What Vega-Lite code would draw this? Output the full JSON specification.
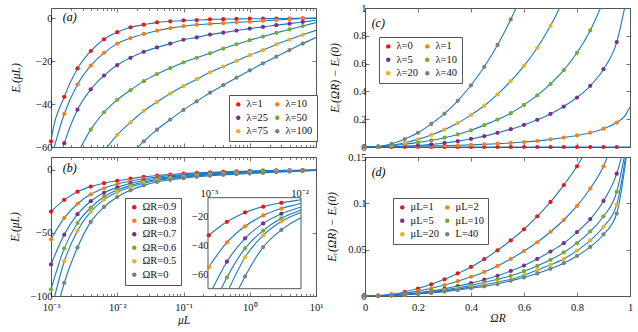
{
"$schema":"https://vega.github.io/schema/vega-lite/v6.json",
"autosize":{"type":"pad"},
"padding":{"left":8,"top":2,"right":0,"bottom":0},
"background":"white",
"columns":2,
"spacing":{"row":10,"column":49},
"bounds":"flush",
"resolve":{"scale":{"x":"independent","y":"independent","color":"independent"}},
"config":{
 "font":"Liberation Serif",
 "view":{"stroke":"#555","strokeWidth":1},
 "scale":{"nice":false},
 "axis":{"domain":false,"grid":false,"labelFont":"Liberation Serif","labelFontSize":10.5,"labelColor":"#111","titleFont":"Liberation Serif","titleFontSize":11.5,"titleFontWeight":"normal","titleFontStyle":"italic","titleColor":"#111","tickColor":"#555","tickWidth":0.8,"labelFlush":false,"labelOverlap":false,"labelPadding":3,"labelBound":false},
 "legend":{"orient":"none","direction":"horizontal","labelFont":"Liberation Serif","labelFontSize":10.5,"labelColor":"#111","symbolType":"circle","symbolSize":20,"symbolStrokeWidth":0,"symbolOpacity":1,"fillColor":"white","strokeColor":"#555","padding":4,"rowPadding":2.5,"columnPadding":3,"labelOffset":3}
},
"datasets":{
"a":[
{"s":"λ=1","x":0.00095,"y":-63,"src":"fit"},
{"s":"λ=1","x":0.001,"y":-57.4,"src":"pt"},{"s":"λ=1","x":0.001585,"y":-36.6,"src":"pt"},{"s":"λ=1","x":0.002512,"y":-23.4,"src":"pt"},{"s":"λ=1","x":0.003981,"y":-15.3,"src":"pt"},{"s":"λ=1","x":0.00631,"y":-9.8,"src":"pt"},{"s":"λ=1","x":0.01,"y":-6.5,"src":"pt"},{"s":"λ=1","x":0.01585,"y":-4.2,"src":"pt"},{"s":"λ=1","x":0.02512,"y":-3.0,"src":"pt"},{"s":"λ=1","x":0.03981,"y":-1.9,"src":"pt"},{"s":"λ=1","x":0.0631,"y":-1.4,"src":"pt"},{"s":"λ=1","x":0.1,"y":-1.0,"src":"pt"},{"s":"λ=1","x":0.1585,"y":-0.8,"src":"pt"},{"s":"λ=1","x":0.2512,"y":-0.5,"src":"pt"},{"s":"λ=1","x":0.3981,"y":-0.4,"src":"pt"},{"s":"λ=1","x":0.631,"y":-0.3,"src":"pt"},{"s":"λ=1","x":1,"y":-0.2,"src":"pt"},{"s":"λ=1","x":1.585,"y":-0.2,"src":"pt"},{"s":"λ=1","x":2.512,"y":-0.1,"src":"pt"},{"s":"λ=1","x":3.981,"y":-0.1,"src":"pt"},{"s":"λ=1","x":6.31,"y":0,"src":"pt"},{"s":"λ=1","x":10,"y":0,"src":"fit"},
{"s":"λ=10","x":0.001,"y":-65.5,"src":"fit"},
{"s":"λ=10","x":0.001585,"y":-44.6,"src":"pt"},{"s":"λ=10","x":0.002512,"y":-30.9,"src":"pt"},{"s":"λ=10","x":0.003981,"y":-22.1,"src":"pt"},{"s":"λ=10","x":0.00631,"y":-16.1,"src":"pt"},{"s":"λ=10","x":0.01,"y":-11.8,"src":"pt"},{"s":"λ=10","x":0.01585,"y":-9.2,"src":"pt"},{"s":"λ=10","x":0.02512,"y":-7.3,"src":"pt"},{"s":"λ=10","x":0.03981,"y":-5.8,"src":"pt"},{"s":"λ=10","x":0.0631,"y":-4.6,"src":"pt"},{"s":"λ=10","x":0.1,"y":-3.7,"src":"pt"},{"s":"λ=10","x":0.1585,"y":-3.0,"src":"pt"},{"s":"λ=10","x":0.2512,"y":-2.6,"src":"pt"},{"s":"λ=10","x":0.3981,"y":-2.3,"src":"pt"},{"s":"λ=10","x":0.631,"y":-1.9,"src":"pt"},{"s":"λ=10","x":1,"y":-1.6,"src":"pt"},{"s":"λ=10","x":1.585,"y":-1.2,"src":"pt"},{"s":"λ=10","x":2.512,"y":-0.8,"src":"pt"},{"s":"λ=10","x":3.981,"y":-0.4,"src":"pt"},{"s":"λ=10","x":6.31,"y":-0.1,"src":"pt"},{"s":"λ=10","x":10,"y":0.1,"src":"fit"},
{"s":"λ=25","x":0.001,"y":-80,"src":"fit"},
{"s":"λ=25","x":0.001585,"y":-58.2,"src":"pt"},{"s":"λ=25","x":0.002512,"y":-42.6,"src":"pt"},{"s":"λ=25","x":0.003981,"y":-33.1,"src":"pt"},{"s":"λ=25","x":0.00631,"y":-26.7,"src":"pt"},{"s":"λ=25","x":0.01,"y":-21.8,"src":"pt"},{"s":"λ=25","x":0.01585,"y":-18.4,"src":"pt"},{"s":"λ=25","x":0.02512,"y":-15.6,"src":"pt"},{"s":"λ=25","x":0.03981,"y":-13.6,"src":"pt"},{"s":"λ=25","x":0.0631,"y":-11.8,"src":"pt"},{"s":"λ=25","x":0.1,"y":-10.0,"src":"pt"},{"s":"λ=25","x":0.1585,"y":-8.9,"src":"pt"},{"s":"λ=25","x":0.2512,"y":-7.6,"src":"pt"},{"s":"λ=25","x":0.3981,"y":-6.7,"src":"pt"},{"s":"λ=25","x":0.631,"y":-5.7,"src":"pt"},{"s":"λ=25","x":1,"y":-4.8,"src":"pt"},{"s":"λ=25","x":1.585,"y":-4.0,"src":"pt"},{"s":"λ=25","x":2.512,"y":-3.2,"src":"pt"},{"s":"λ=25","x":3.981,"y":-2.5,"src":"pt"},{"s":"λ=25","x":6.31,"y":-1.7,"src":"pt"},{"s":"λ=25","x":10,"y":-0.9,"src":"fit"},
{"s":"λ=50","x":0.002512,"y":-63,"src":"fit"},
{"s":"λ=50","x":0.003981,"y":-51.9,"src":"pt"},{"s":"λ=50","x":0.00631,"y":-43.8,"src":"pt"},{"s":"λ=50","x":0.01,"y":-38.0,"src":"pt"},{"s":"λ=50","x":0.01585,"y":-33.5,"src":"pt"},{"s":"λ=50","x":0.02512,"y":-29.3,"src":"pt"},{"s":"λ=50","x":0.03981,"y":-26.0,"src":"pt"},{"s":"λ=50","x":0.0631,"y":-23.2,"src":"pt"},{"s":"λ=50","x":0.1,"y":-20.6,"src":"pt"},{"s":"λ=50","x":0.1585,"y":-18.4,"src":"pt"},{"s":"λ=50","x":0.2512,"y":-16.3,"src":"pt"},{"s":"λ=50","x":0.3981,"y":-14.1,"src":"pt"},{"s":"λ=50","x":0.631,"y":-12.1,"src":"pt"},{"s":"λ=50","x":1,"y":-10.2,"src":"pt"},{"s":"λ=50","x":1.585,"y":-8.5,"src":"pt"},{"s":"λ=50","x":2.512,"y":-6.8,"src":"pt"},{"s":"λ=50","x":3.981,"y":-5.2,"src":"pt"},{"s":"λ=50","x":6.31,"y":-3.6,"src":"pt"},{"s":"λ=50","x":10,"y":-2.0,"src":"fit"},
{"s":"λ=75","x":0.00631,"y":-62,"src":"fit"},
{"s":"λ=75","x":0.01,"y":-54.3,"src":"pt"},{"s":"λ=75","x":0.01585,"y":-48.5,"src":"pt"},{"s":"λ=75","x":0.02512,"y":-43.2,"src":"pt"},{"s":"λ=75","x":0.03981,"y":-39.0,"src":"pt"},{"s":"λ=75","x":0.0631,"y":-35.1,"src":"pt"},{"s":"λ=75","x":0.1,"y":-31.6,"src":"pt"},{"s":"λ=75","x":0.1585,"y":-28.4,"src":"pt"},{"s":"λ=75","x":0.2512,"y":-25.2,"src":"pt"},{"s":"λ=75","x":0.3981,"y":-22.5,"src":"pt"},{"s":"λ=75","x":0.631,"y":-19.9,"src":"pt"},{"s":"λ=75","x":1,"y":-17.2,"src":"pt"},{"s":"λ=75","x":1.585,"y":-14.8,"src":"pt"},{"s":"λ=75","x":2.512,"y":-12.2,"src":"pt"},{"s":"λ=75","x":3.981,"y":-9.9,"src":"pt"},{"s":"λ=75","x":6.31,"y":-7.7,"src":"pt"},{"s":"λ=75","x":10,"y":-5.6,"src":"fit"},
{"s":"λ=100","x":0.01585,"y":-63.5,"src":"fit"},
{"s":"λ=100","x":0.02512,"y":-57.4,"src":"pt"},{"s":"λ=100","x":0.03981,"y":-51.9,"src":"pt"},{"s":"λ=100","x":0.0631,"y":-47.2,"src":"pt"},{"s":"λ=100","x":0.1,"y":-42.7,"src":"pt"},{"s":"λ=100","x":0.1585,"y":-38.7,"src":"pt"},{"s":"λ=100","x":0.2512,"y":-34.7,"src":"pt"},{"s":"λ=100","x":0.3981,"y":-31.2,"src":"pt"},{"s":"λ=100","x":0.631,"y":-27.7,"src":"pt"},{"s":"λ=100","x":1,"y":-24.3,"src":"pt"},{"s":"λ=100","x":1.585,"y":-21.0,"src":"pt"},{"s":"λ=100","x":2.512,"y":-17.9,"src":"pt"},{"s":"λ=100","x":3.981,"y":-14.8,"src":"pt"},{"s":"λ=100","x":6.31,"y":-11.8,"src":"pt"},{"s":"λ=100","x":10,"y":-9.0,"src":"fit"}
],
"b":[
{"s":"ΩR=0.9","x":0.001,"y":-33.0,"src":"pt"},{"s":"ΩR=0.9","x":0.001585,"y":-23.7,"src":"pt"},{"s":"ΩR=0.9","x":0.002512,"y":-17.2,"src":"pt"},{"s":"ΩR=0.9","x":0.003981,"y":-13.2,"src":"pt"},{"s":"ΩR=0.9","x":0.00631,"y":-10.5,"src":"pt"},{"s":"ΩR=0.9","x":0.01,"y":-8.6,"src":"pt"},{"s":"ΩR=0.9","x":0.01585,"y":-6.9,"src":"pt"},{"s":"ΩR=0.9","x":0.02512,"y":-5.5,"src":"pt"},{"s":"ΩR=0.9","x":0.03981,"y":-4.4,"src":"pt"},{"s":"ΩR=0.9","x":0.0631,"y":-3.6,"src":"pt"},{"s":"ΩR=0.9","x":0.1,"y":-2.9,"src":"pt"},{"s":"ΩR=0.9","x":0.1585,"y":-2.3,"src":"pt"},{"s":"ΩR=0.9","x":0.2512,"y":-1.8,"src":"pt"},{"s":"ΩR=0.9","x":0.3981,"y":-1.4,"src":"pt"},{"s":"ΩR=0.9","x":0.631,"y":-1.1,"src":"pt"},{"s":"ΩR=0.9","x":1,"y":-0.8,"src":"pt"},{"s":"ΩR=0.9","x":1.585,"y":-0.6,"src":"pt"},{"s":"ΩR=0.9","x":2.512,"y":-0.4,"src":"pt"},{"s":"ΩR=0.9","x":3.981,"y":-0.3,"src":"pt"},{"s":"ΩR=0.9","x":6.31,"y":-0.1,"src":"pt"},{"s":"ΩR=0.9","x":10,"y":0,"src":"fit"},
{"s":"ΩR=0.8","x":0.001,"y":-55.0,"src":"pt"},{"s":"ΩR=0.8","x":0.001585,"y":-38.0,"src":"pt"},{"s":"ΩR=0.8","x":0.002512,"y":-26.8,"src":"pt"},{"s":"ΩR=0.8","x":0.003981,"y":-19.3,"src":"pt"},{"s":"ΩR=0.8","x":0.00631,"y":-14.5,"src":"pt"},{"s":"ΩR=0.8","x":0.01,"y":-11.2,"src":"pt"},{"s":"ΩR=0.8","x":0.01585,"y":-8.8,"src":"pt"},{"s":"ΩR=0.8","x":0.02512,"y":-7.0,"src":"pt"},{"s":"ΩR=0.8","x":0.03981,"y":-5.6,"src":"pt"},{"s":"ΩR=0.8","x":0.0631,"y":-4.6,"src":"pt"},{"s":"ΩR=0.8","x":0.1,"y":-3.8,"src":"pt"},{"s":"ΩR=0.8","x":0.1585,"y":-3.0,"src":"pt"},{"s":"ΩR=0.8","x":0.2512,"y":-2.4,"src":"pt"},{"s":"ΩR=0.8","x":0.3981,"y":-1.9,"src":"pt"},{"s":"ΩR=0.8","x":0.631,"y":-1.5,"src":"pt"},{"s":"ΩR=0.8","x":1,"y":-1.2,"src":"pt"},{"s":"ΩR=0.8","x":1.585,"y":-0.9,"src":"pt"},{"s":"ΩR=0.8","x":2.512,"y":-0.7,"src":"pt"},{"s":"ΩR=0.8","x":3.981,"y":-0.5,"src":"pt"},{"s":"ΩR=0.8","x":6.31,"y":-0.3,"src":"pt"},{"s":"ΩR=0.8","x":10,"y":-0.1,"src":"fit"},
{"s":"ΩR=0.7","x":0.001,"y":-75,"src":"pt"},{"s":"ΩR=0.7","x":0.001585,"y":-51.3,"src":"pt"},{"s":"ΩR=0.7","x":0.002512,"y":-35.1,"src":"pt"},{"s":"ΩR=0.7","x":0.003981,"y":-24.8,"src":"pt"},{"s":"ΩR=0.7","x":0.00631,"y":-18.1,"src":"pt"},{"s":"ΩR=0.7","x":0.01,"y":-13.8,"src":"pt"},{"s":"ΩR=0.7","x":0.01585,"y":-10.6,"src":"pt"},{"s":"ΩR=0.7","x":0.02512,"y":-8.3,"src":"pt"},{"s":"ΩR=0.7","x":0.03981,"y":-6.6,"src":"pt"},{"s":"ΩR=0.7","x":0.0631,"y":-5.5,"src":"pt"},{"s":"ΩR=0.7","x":0.1,"y":-4.5,"src":"pt"},{"s":"ΩR=0.7","x":0.1585,"y":-3.6,"src":"pt"},{"s":"ΩR=0.7","x":0.2512,"y":-2.9,"src":"pt"},{"s":"ΩR=0.7","x":0.3981,"y":-2.4,"src":"pt"},{"s":"ΩR=0.7","x":0.631,"y":-1.9,"src":"pt"},{"s":"ΩR=0.7","x":1,"y":-1.5,"src":"pt"},{"s":"ΩR=0.7","x":1.585,"y":-1.2,"src":"pt"},{"s":"ΩR=0.7","x":2.512,"y":-0.9,"src":"pt"},{"s":"ΩR=0.7","x":3.981,"y":-0.6,"src":"pt"},{"s":"ΩR=0.7","x":6.31,"y":-0.4,"src":"pt"},{"s":"ΩR=0.7","x":10,"y":-0.1,"src":"fit"},
{"s":"ΩR=0.6","x":0.001,"y":-94.7,"src":"pt"},{"s":"ΩR=0.6","x":0.001585,"y":-62.2,"src":"pt"},{"s":"ΩR=0.6","x":0.002512,"y":-42.1,"src":"pt"},{"s":"ΩR=0.6","x":0.003981,"y":-29.8,"src":"pt"},{"s":"ΩR=0.6","x":0.00631,"y":-21.3,"src":"pt"},{"s":"ΩR=0.6","x":0.01,"y":-15.9,"src":"pt"},{"s":"ΩR=0.6","x":0.01585,"y":-12.2,"src":"pt"},{"s":"ΩR=0.6","x":0.02512,"y":-9.5,"src":"pt"},{"s":"ΩR=0.6","x":0.03981,"y":-7.5,"src":"pt"},{"s":"ΩR=0.6","x":0.0631,"y":-6.2,"src":"pt"},{"s":"ΩR=0.6","x":0.1,"y":-5.1,"src":"pt"},{"s":"ΩR=0.6","x":0.1585,"y":-4.2,"src":"pt"},{"s":"ΩR=0.6","x":0.2512,"y":-3.4,"src":"pt"},{"s":"ΩR=0.6","x":0.3981,"y":-2.8,"src":"pt"},{"s":"ΩR=0.6","x":0.631,"y":-2.3,"src":"pt"},{"s":"ΩR=0.6","x":1,"y":-1.8,"src":"pt"},{"s":"ΩR=0.6","x":1.585,"y":-1.5,"src":"pt"},{"s":"ΩR=0.6","x":2.512,"y":-1.1,"src":"pt"},{"s":"ΩR=0.6","x":3.981,"y":-0.8,"src":"pt"},{"s":"ΩR=0.6","x":6.31,"y":-0.5,"src":"pt"},{"s":"ΩR=0.6","x":10,"y":-0.2,"src":"fit"},
{"s":"ΩR=0.5","x":0.001,"y":-112,"src":"fit"},{"s":"ΩR=0.5","x":0.001585,"y":-72.6,"src":"pt"},{"s":"ΩR=0.5","x":0.002512,"y":-48.2,"src":"pt"},{"s":"ΩR=0.5","x":0.003981,"y":-33.1,"src":"pt"},{"s":"ΩR=0.5","x":0.00631,"y":-23.5,"src":"pt"},{"s":"ΩR=0.5","x":0.01,"y":-17.6,"src":"pt"},{"s":"ΩR=0.5","x":0.01585,"y":-13.5,"src":"pt"},{"s":"ΩR=0.5","x":0.02512,"y":-10.5,"src":"pt"},{"s":"ΩR=0.5","x":0.03981,"y":-8.3,"src":"pt"},{"s":"ΩR=0.5","x":0.0631,"y":-6.8,"src":"pt"},{"s":"ΩR=0.5","x":0.1,"y":-5.7,"src":"pt"},{"s":"ΩR=0.5","x":0.1585,"y":-4.7,"src":"pt"},{"s":"ΩR=0.5","x":0.2512,"y":-3.9,"src":"pt"},{"s":"ΩR=0.5","x":0.3981,"y":-3.2,"src":"pt"},{"s":"ΩR=0.5","x":0.631,"y":-2.7,"src":"pt"},{"s":"ΩR=0.5","x":1,"y":-2.2,"src":"pt"},{"s":"ΩR=0.5","x":1.585,"y":-1.8,"src":"pt"},{"s":"ΩR=0.5","x":2.512,"y":-1.4,"src":"pt"},{"s":"ΩR=0.5","x":3.981,"y":-1.0,"src":"pt"},{"s":"ΩR=0.5","x":6.31,"y":-0.6,"src":"pt"},{"s":"ΩR=0.5","x":10,"y":-0.3,"src":"fit"},
{"s":"ΩR=0","x":0.001,"y":-131,"src":"fit"},{"s":"ΩR=0","x":0.001585,"y":-89.5,"src":"pt"},{"s":"ΩR=0","x":0.002512,"y":-61.5,"src":"pt"},{"s":"ΩR=0","x":0.003981,"y":-41.2,"src":"pt"},{"s":"ΩR=0","x":0.00631,"y":-29.3,"src":"pt"},{"s":"ΩR=0","x":0.01,"y":-21.4,"src":"pt"},{"s":"ΩR=0","x":0.01585,"y":-16.1,"src":"pt"},{"s":"ΩR=0","x":0.02512,"y":-12.2,"src":"pt"},{"s":"ΩR=0","x":0.03981,"y":-9.5,"src":"pt"},{"s":"ΩR=0","x":0.0631,"y":-7.8,"src":"pt"},{"s":"ΩR=0","x":0.1,"y":-6.5,"src":"pt"},{"s":"ΩR=0","x":0.1585,"y":-5.4,"src":"pt"},{"s":"ΩR=0","x":0.2512,"y":-4.6,"src":"pt"},{"s":"ΩR=0","x":0.3981,"y":-3.9,"src":"pt"},{"s":"ΩR=0","x":0.631,"y":-3.3,"src":"pt"},{"s":"ΩR=0","x":1,"y":-2.8,"src":"pt"},{"s":"ΩR=0","x":1.585,"y":-2.3,"src":"pt"},{"s":"ΩR=0","x":2.512,"y":-1.8,"src":"pt"},{"s":"ΩR=0","x":3.981,"y":-1.3,"src":"pt"},{"s":"ΩR=0","x":6.31,"y":-0.8,"src":"pt"},{"s":"ΩR=0","x":10,"y":-0.4,"src":"fit"}
],
"bi":[
{"s":"ΩR=0.9","x":0.001,"y":-33.0},{"s":"ΩR=0.9","x":0.001585,"y":-23.7},{"s":"ΩR=0.9","x":0.002512,"y":-17.2},{"s":"ΩR=0.9","x":0.003981,"y":-13.2},{"s":"ΩR=0.9","x":0.00631,"y":-10.5},{"s":"ΩR=0.9","x":0.01,"y":-8.6},{"s":"ΩR=0.9","x":0.0104,"y":-8.4},
{"s":"ΩR=0.8","x":0.001,"y":-55.0},{"s":"ΩR=0.8","x":0.001585,"y":-38.0},{"s":"ΩR=0.8","x":0.002512,"y":-26.8},{"s":"ΩR=0.8","x":0.003981,"y":-19.3},{"s":"ΩR=0.8","x":0.00631,"y":-14.5},{"s":"ΩR=0.8","x":0.01,"y":-11.2},{"s":"ΩR=0.8","x":0.0104,"y":-10.9},
{"s":"ΩR=0.7","x":0.0011,"y":-70},{"s":"ΩR=0.7","x":0.001585,"y":-51.3},{"s":"ΩR=0.7","x":0.002512,"y":-35.1},{"s":"ΩR=0.7","x":0.003981,"y":-24.8},{"s":"ΩR=0.7","x":0.00631,"y":-18.1},{"s":"ΩR=0.7","x":0.01,"y":-13.8},{"s":"ΩR=0.7","x":0.0104,"y":-13.4},
{"s":"ΩR=0.6","x":0.00137,"y":-70},{"s":"ΩR=0.6","x":0.001585,"y":-62.2},{"s":"ΩR=0.6","x":0.002512,"y":-42.1},{"s":"ΩR=0.6","x":0.003981,"y":-29.8},{"s":"ΩR=0.6","x":0.00631,"y":-21.3},{"s":"ΩR=0.6","x":0.01,"y":-15.9},{"s":"ΩR=0.6","x":0.0104,"y":-15.5},
{"s":"ΩR=0.5","x":0.00167,"y":-70},{"s":"ΩR=0.5","x":0.002512,"y":-48.2},{"s":"ΩR=0.5","x":0.003981,"y":-33.1},{"s":"ΩR=0.5","x":0.00631,"y":-23.5},{"s":"ΩR=0.5","x":0.01,"y":-17.6},{"s":"ΩR=0.5","x":0.0104,"y":-17.2},
{"s":"ΩR=0","x":0.00214,"y":-70},{"s":"ΩR=0","x":0.002512,"y":-61.5},{"s":"ΩR=0","x":0.003981,"y":-41.2},{"s":"ΩR=0","x":0.00631,"y":-29.3},{"s":"ΩR=0","x":0.01,"y":-21.4},{"s":"ΩR=0","x":0.0104,"y":-20.9}
],
"c":[
{"s":"λ=0","x":0,"y":0,"src":"pt"},{"s":"λ=0","x":0.05,"y":0,"src":"pt"},{"s":"λ=0","x":0.1,"y":0,"src":"pt"},{"s":"λ=0","x":0.15,"y":0,"src":"pt"},{"s":"λ=0","x":0.2,"y":0,"src":"pt"},{"s":"λ=0","x":0.25,"y":0,"src":"pt"},{"s":"λ=0","x":0.3,"y":0,"src":"pt"},{"s":"λ=0","x":0.35,"y":0,"src":"pt"},{"s":"λ=0","x":0.4,"y":0,"src":"pt"},{"s":"λ=0","x":0.45,"y":0,"src":"pt"},{"s":"λ=0","x":0.5,"y":0,"src":"pt"},{"s":"λ=0","x":0.55,"y":0,"src":"pt"},{"s":"λ=0","x":0.6,"y":0,"src":"pt"},{"s":"λ=0","x":0.65,"y":0,"src":"pt"},{"s":"λ=0","x":0.7,"y":0,"src":"pt"},{"s":"λ=0","x":0.75,"y":0,"src":"pt"},{"s":"λ=0","x":0.8,"y":0,"src":"pt"},{"s":"λ=0","x":0.85,"y":0,"src":"pt"},{"s":"λ=0","x":0.9,"y":0,"src":"pt"},{"s":"λ=0","x":0.95,"y":0,"src":"pt"},{"s":"λ=0","x":1,"y":0,"src":"fit"},
{"s":"λ=1","x":0,"y":0,"src":"pt"},{"s":"λ=1","x":0.05,"y":0.0005,"src":"pt"},{"s":"λ=1","x":0.1,"y":0.002,"src":"pt"},{"s":"λ=1","x":0.15,"y":0.004,"src":"pt"},{"s":"λ=1","x":0.2,"y":0.006,"src":"pt"},{"s":"λ=1","x":0.25,"y":0.008,"src":"pt"},{"s":"λ=1","x":0.3,"y":0.010,"src":"pt"},{"s":"λ=1","x":0.35,"y":0.012,"src":"pt"},{"s":"λ=1","x":0.4,"y":0.015,"src":"pt"},{"s":"λ=1","x":0.45,"y":0.019,"src":"pt"},{"s":"λ=1","x":0.5,"y":0.024,"src":"pt"},{"s":"λ=1","x":0.55,"y":0.029,"src":"pt"},{"s":"λ=1","x":0.6,"y":0.036,"src":"pt"},{"s":"λ=1","x":0.65,"y":0.044,"src":"pt"},{"s":"λ=1","x":0.7,"y":0.055,"src":"pt"},{"s":"λ=1","x":0.75,"y":0.068,"src":"pt"},{"s":"λ=1","x":0.8,"y":0.083,"src":"pt"},{"s":"λ=1","x":0.85,"y":0.103,"src":"pt"},{"s":"λ=1","x":0.9,"y":0.132,"src":"pt"},{"s":"λ=1","x":0.95,"y":0.176,"src":"pt"},{"s":"λ=1","x":0.98,"y":0.222,"src":"fit"},{"s":"λ=1","x":1,"y":0.29,"src":"fit"},
{"s":"λ=5","x":0,"y":0,"src":"pt"},{"s":"λ=5","x":0.05,"y":0.0005,"src":"pt"},{"s":"λ=5","x":0.1,"y":0.002,"src":"pt"},{"s":"λ=5","x":0.15,"y":0.006,"src":"pt"},{"s":"λ=5","x":0.2,"y":0.011,"src":"pt"},{"s":"λ=5","x":0.25,"y":0.019,"src":"pt"},{"s":"λ=5","x":0.3,"y":0.029,"src":"pt"},{"s":"λ=5","x":0.35,"y":0.042,"src":"pt"},{"s":"λ=5","x":0.4,"y":0.058,"src":"pt"},{"s":"λ=5","x":0.45,"y":0.078,"src":"pt"},{"s":"λ=5","x":0.5,"y":0.102,"src":"pt"},{"s":"λ=5","x":0.55,"y":0.128,"src":"pt"},{"s":"λ=5","x":0.6,"y":0.159,"src":"pt"},{"s":"λ=5","x":0.65,"y":0.196,"src":"pt"},{"s":"λ=5","x":0.7,"y":0.238,"src":"pt"},{"s":"λ=5","x":0.75,"y":0.291,"src":"pt"},{"s":"λ=5","x":0.8,"y":0.356,"src":"pt"},{"s":"λ=5","x":0.85,"y":0.44,"src":"pt"},{"s":"λ=5","x":0.9,"y":0.56,"src":"pt"},{"s":"λ=5","x":0.95,"y":0.755,"src":"pt"},{"s":"λ=5","x":0.985,"y":1.05,"src":"fit"},
{"s":"λ=10","x":0,"y":0,"src":"pt"},{"s":"λ=10","x":0.05,"y":0.002,"src":"pt"},{"s":"λ=10","x":0.1,"y":0.009,"src":"pt"},{"s":"λ=10","x":0.15,"y":0.02,"src":"pt"},{"s":"λ=10","x":0.2,"y":0.033,"src":"pt"},{"s":"λ=10","x":0.25,"y":0.048,"src":"pt"},{"s":"λ=10","x":0.3,"y":0.067,"src":"pt"},{"s":"λ=10","x":0.35,"y":0.09,"src":"pt"},{"s":"λ=10","x":0.4,"y":0.12,"src":"pt"},{"s":"λ=10","x":0.45,"y":0.157,"src":"pt"},{"s":"λ=10","x":0.5,"y":0.197,"src":"pt"},{"s":"λ=10","x":0.55,"y":0.243,"src":"pt"},{"s":"λ=10","x":0.6,"y":0.303,"src":"pt"},{"s":"λ=10","x":0.65,"y":0.371,"src":"pt"},{"s":"λ=10","x":0.7,"y":0.454,"src":"pt"},{"s":"λ=10","x":0.75,"y":0.553,"src":"pt"},{"s":"λ=10","x":0.8,"y":0.678,"src":"pt"},{"s":"λ=10","x":0.85,"y":0.839,"src":"pt"},{"s":"λ=10","x":0.9,"y":1.05,"src":"fit"},
{"s":"λ=20","x":0,"y":0,"src":"pt"},{"s":"λ=20","x":0.05,"y":0.003,"src":"pt"},{"s":"λ=20","x":0.1,"y":0.012,"src":"pt"},{"s":"λ=20","x":0.15,"y":0.03,"src":"pt"},{"s":"λ=20","x":0.2,"y":0.055,"src":"pt"},{"s":"λ=20","x":0.25,"y":0.087,"src":"pt"},{"s":"λ=20","x":0.3,"y":0.125,"src":"pt"},{"s":"λ=20","x":0.35,"y":0.172,"src":"pt"},{"s":"λ=20","x":0.4,"y":0.231,"src":"pt"},{"s":"λ=20","x":0.45,"y":0.297,"src":"pt"},{"s":"λ=20","x":0.5,"y":0.378,"src":"pt"},{"s":"λ=20","x":0.55,"y":0.474,"src":"pt"},{"s":"λ=20","x":0.6,"y":0.584,"src":"pt"},{"s":"λ=20","x":0.65,"y":0.714,"src":"pt"},{"s":"λ=20","x":0.7,"y":0.872,"src":"pt"},{"s":"λ=20","x":0.75,"y":1.06,"src":"fit"},
{"s":"λ=40","x":0,"y":0,"src":"pt"},{"s":"λ=40","x":0.05,"y":0.005,"src":"pt"},{"s":"λ=40","x":0.1,"y":0.022,"src":"pt"},{"s":"λ=40","x":0.15,"y":0.057,"src":"pt"},{"s":"λ=40","x":0.2,"y":0.102,"src":"pt"},{"s":"λ=40","x":0.25,"y":0.166,"src":"pt"},{"s":"λ=40","x":0.3,"y":0.24,"src":"pt"},{"s":"λ=40","x":0.35,"y":0.332,"src":"pt"},{"s":"λ=40","x":0.4,"y":0.444,"src":"pt"},{"s":"λ=40","x":0.45,"y":0.577,"src":"pt"},{"s":"λ=40","x":0.5,"y":0.734,"src":"pt"},{"s":"λ=40","x":0.55,"y":0.918,"src":"pt"},{"s":"λ=40","x":0.6,"y":1.13,"src":"fit"}
],
"d":[
{"s":"μL=1","x":0,"y":0,"src":"pt"},{"s":"μL=1","x":0.05,"y":0.0004,"src":"pt"},{"s":"μL=1","x":0.1,"y":0.0018,"src":"pt"},{"s":"μL=1","x":0.15,"y":0.0044,"src":"pt"},{"s":"μL=1","x":0.2,"y":0.008,"src":"pt"},{"s":"μL=1","x":0.25,"y":0.0126,"src":"pt"},{"s":"μL=1","x":0.3,"y":0.018,"src":"pt"},{"s":"μL=1","x":0.35,"y":0.0243,"src":"pt"},{"s":"μL=1","x":0.4,"y":0.0314,"src":"pt"},{"s":"μL=1","x":0.45,"y":0.0397,"src":"pt"},{"s":"μL=1","x":0.5,"y":0.0493,"src":"pt"},{"s":"μL=1","x":0.55,"y":0.06,"src":"pt"},{"s":"μL=1","x":0.6,"y":0.072,"src":"pt"},{"s":"μL=1","x":0.65,"y":0.086,"src":"pt"},{"s":"μL=1","x":0.7,"y":0.1015,"src":"pt"},{"s":"μL=1","x":0.75,"y":0.1197,"src":"pt"},{"s":"μL=1","x":0.8,"y":0.14,"src":"pt"},{"s":"μL=1","x":0.85,"y":0.165,"src":"fit"},
{"s":"μL=2","x":0,"y":0,"src":"pt"},{"s":"μL=2","x":0.05,"y":0.0003,"src":"pt"},{"s":"μL=2","x":0.1,"y":0.0012,"src":"pt"},{"s":"μL=2","x":0.15,"y":0.0029,"src":"pt"},{"s":"μL=2","x":0.2,"y":0.0053,"src":"pt"},{"s":"μL=2","x":0.25,"y":0.0083,"src":"pt"},{"s":"μL=2","x":0.3,"y":0.0118,"src":"pt"},{"s":"μL=2","x":0.35,"y":0.016,"src":"pt"},{"s":"μL=2","x":0.4,"y":0.0207,"src":"pt"},{"s":"μL=2","x":0.45,"y":0.026,"src":"pt"},{"s":"μL=2","x":0.5,"y":0.0325,"src":"pt"},{"s":"μL=2","x":0.55,"y":0.04,"src":"pt"},{"s":"μL=2","x":0.6,"y":0.0486,"src":"pt"},{"s":"μL=2","x":0.65,"y":0.058,"src":"pt"},{"s":"μL=2","x":0.7,"y":0.0693,"src":"pt"},{"s":"μL=2","x":0.75,"y":0.082,"src":"pt"},{"s":"μL=2","x":0.8,"y":0.0972,"src":"pt"},{"s":"μL=2","x":0.85,"y":0.116,"src":"pt"},{"s":"μL=2","x":0.9,"y":0.14,"src":"pt"},{"s":"μL=2","x":0.93,"y":0.162,"src":"fit"},
{"s":"μL=5","x":0,"y":0,"src":"pt"},{"s":"μL=5","x":0.05,"y":0.0002,"src":"pt"},{"s":"μL=5","x":0.1,"y":0.0008,"src":"pt"},{"s":"μL=5","x":0.15,"y":0.0019,"src":"pt"},{"s":"μL=5","x":0.2,"y":0.0035,"src":"pt"},{"s":"μL=5","x":0.25,"y":0.0055,"src":"pt"},{"s":"μL=5","x":0.3,"y":0.0079,"src":"pt"},{"s":"μL=5","x":0.35,"y":0.0107,"src":"pt"},{"s":"μL=5","x":0.4,"y":0.0139,"src":"pt"},{"s":"μL=5","x":0.45,"y":0.0176,"src":"pt"},{"s":"μL=5","x":0.5,"y":0.0218,"src":"pt"},{"s":"μL=5","x":0.55,"y":0.027,"src":"pt"},{"s":"μL=5","x":0.6,"y":0.0329,"src":"pt"},{"s":"μL=5","x":0.65,"y":0.04,"src":"pt"},{"s":"μL=5","x":0.7,"y":0.048,"src":"pt"},{"s":"μL=5","x":0.75,"y":0.057,"src":"pt"},{"s":"μL=5","x":0.8,"y":0.069,"src":"pt"},{"s":"μL=5","x":0.85,"y":0.083,"src":"pt"},{"s":"μL=5","x":0.9,"y":0.1026,"src":"pt"},{"s":"μL=5","x":0.95,"y":0.132,"src":"pt"},{"s":"μL=5","x":0.975,"y":0.158,"src":"fit"},
{"s":"μL=10","x":0,"y":0,"src":"pt"},{"s":"μL=10","x":0.05,"y":0.00015,"src":"pt"},{"s":"μL=10","x":0.1,"y":0.0007,"src":"pt"},{"s":"μL=10","x":0.15,"y":0.0016,"src":"pt"},{"s":"μL=10","x":0.2,"y":0.0029,"src":"pt"},{"s":"μL=10","x":0.25,"y":0.0046,"src":"pt"},{"s":"μL=10","x":0.3,"y":0.0066,"src":"pt"},{"s":"μL=10","x":0.35,"y":0.0089,"src":"pt"},{"s":"μL=10","x":0.4,"y":0.0115,"src":"pt"},{"s":"μL=10","x":0.45,"y":0.0145,"src":"pt"},{"s":"μL=10","x":0.5,"y":0.018,"src":"pt"},{"s":"μL=10","x":0.55,"y":0.0218,"src":"pt"},{"s":"μL=10","x":0.6,"y":0.0268,"src":"pt"},{"s":"μL=10","x":0.65,"y":0.0325,"src":"pt"},{"s":"μL=10","x":0.7,"y":0.039,"src":"pt"},{"s":"μL=10","x":0.75,"y":0.047,"src":"pt"},{"s":"μL=10","x":0.8,"y":0.057,"src":"pt"},{"s":"μL=10","x":0.85,"y":0.0697,"src":"pt"},{"s":"μL=10","x":0.9,"y":0.086,"src":"pt"},{"s":"μL=10","x":0.95,"y":0.1125,"src":"pt"},{"s":"μL=10","x":0.985,"y":0.16,"src":"fit"},
{"s":"μL=20","x":0,"y":0,"src":"pt"},{"s":"μL=20","x":0.05,"y":0.0001,"src":"pt"},{"s":"μL=20","x":0.1,"y":0.0006,"src":"pt"},{"s":"μL=20","x":0.15,"y":0.0013,"src":"pt"},{"s":"μL=20","x":0.2,"y":0.0024,"src":"pt"},{"s":"μL=20","x":0.25,"y":0.0038,"src":"pt"},{"s":"μL=20","x":0.3,"y":0.0055,"src":"pt"},{"s":"μL=20","x":0.35,"y":0.0074,"src":"pt"},{"s":"μL=20","x":0.4,"y":0.0096,"src":"pt"},{"s":"μL=20","x":0.45,"y":0.0121,"src":"pt"},{"s":"μL=20","x":0.5,"y":0.015,"src":"pt"},{"s":"μL=20","x":0.55,"y":0.018,"src":"pt"},{"s":"μL=20","x":0.6,"y":0.0225,"src":"pt"},{"s":"μL=20","x":0.65,"y":0.0279,"src":"pt"},{"s":"μL=20","x":0.7,"y":0.0336,"src":"pt"},{"s":"μL=20","x":0.75,"y":0.04,"src":"pt"},{"s":"μL=20","x":0.8,"y":0.049,"src":"pt"},{"s":"μL=20","x":0.85,"y":0.06,"src":"pt"},{"s":"μL=20","x":0.9,"y":0.0747,"src":"pt"},{"s":"μL=20","x":0.95,"y":0.0986,"src":"pt"},{"s":"μL=20","x":0.99,"y":0.163,"src":"fit"},
{"s":"L=40","x":0,"y":0,"src":"pt"},{"s":"L=40","x":0.05,"y":0.0001,"src":"pt"},{"s":"L=40","x":0.1,"y":0.0005,"src":"pt"},{"s":"L=40","x":0.15,"y":0.0011,"src":"pt"},{"s":"L=40","x":0.2,"y":0.0021,"src":"pt"},{"s":"L=40","x":0.25,"y":0.0033,"src":"pt"},{"s":"L=40","x":0.3,"y":0.0047,"src":"pt"},{"s":"L=40","x":0.35,"y":0.0064,"src":"pt"},{"s":"L=40","x":0.4,"y":0.0083,"src":"pt"},{"s":"L=40","x":0.45,"y":0.0104,"src":"pt"},{"s":"L=40","x":0.5,"y":0.0129,"src":"pt"},{"s":"L=40","x":0.55,"y":0.0164,"src":"pt"},{"s":"L=40","x":0.6,"y":0.02,"src":"pt"},{"s":"L=40","x":0.65,"y":0.0243,"src":"pt"},{"s":"L=40","x":0.7,"y":0.0293,"src":"pt"},{"s":"L=40","x":0.75,"y":0.0354,"src":"pt"},{"s":"L=40","x":0.8,"y":0.0432,"src":"pt"},{"s":"L=40","x":0.85,"y":0.053,"src":"pt"},{"s":"L=40","x":0.9,"y":0.0664,"src":"pt"},{"s":"L=40","x":0.95,"y":0.089,"src":"pt"},{"s":"L=40","x":0.995,"y":0.17,"src":"fit"}
]
},
"concat":[
{
 "width":265,"height":139,
 "data":{"name":"a"},
 "resolve":{"axis":{"x":"independent","y":"independent"}},
 "layer":[
  {"mark":{"type":"line","clip":true,"color":"#1a7ac0","strokeWidth":1.1,"interpolate":"monotone"},
   "encoding":{
    "x":{"field":"x","type":"quantitative","scale":{"type":"log","domain":[0.001,10],"nice":false},"axis":{"orient":"bottom","values":[0.001,0.002,0.003,0.004,0.005,0.006,0.007,0.008,0.009,0.01,0.02,0.03,0.04,0.05,0.06,0.07,0.08,0.09,0.1,0.2,0.3,0.4,0.5,0.6,0.7,0.8,0.9,1,2,3,4,5,6,7,8,9,10],"labels":false,"title":null,"tickSize":{"condition":{"test":"abs(log(datum.value)/LN10-round(log(datum.value)/LN10))<0.001","value":-4},"value":-2.5}}},
    "y":{"field":"y","type":"quantitative","scale":{"domain":[-60,4.8],"nice":false},"axis":{"orient":"left","values":[-60,-40,-20,0],"tickSize":-4,"title":"Eᵣ(μL)","titlePadding":14}},
    "detail":{"field":"s"}}},
  {"transform":[{"filter":"datum.src=='pt'"}],
   "mark":{"type":"circle","size":18,"opacity":1},
   "encoding":{
    "x":{"field":"x","type":"quantitative","axis":{"orient":"top","values":[0.001,0.002,0.003,0.004,0.005,0.006,0.007,0.008,0.009,0.01,0.02,0.03,0.04,0.05,0.06,0.07,0.08,0.09,0.1,0.2,0.3,0.4,0.5,0.6,0.7,0.8,0.9,1,2,3,4,5,6,7,8,9,10],"labels":false,"title":null,"tickSize":{"condition":{"test":"abs(log(datum.value)/LN10-round(log(datum.value)/LN10))<0.001","value":-4},"value":-2.5}}},
    "y":{"field":"y","type":"quantitative","axis":{"orient":"right","values":[-60,-40,-20,0],"labels":false,"tickSize":-4,"title":null}},
    "color":{"field":"s","type":"nominal","scale":{"domain":["λ=1","λ=10","λ=25","λ=50","λ=75","λ=100"],"range":["#f01414","#ff7f0e","#7e2f8e","#77ac30","#edb120","#7f7f7f"]},"legend":{"title":null,"columns":2,"direction":"horizontal","legendX":178,"legendY":87}}}},
  {"data":{"values":[{"t":"(a)","x":0.0015,"y":0.6}]},
   "mark":{"type":"text","align":"left","baseline":"middle","fontStyle":"italic","fontSize":12,"font":"Liberation Serif"},
   "encoding":{"x":{"field":"x","type":"quantitative","axis":null},"y":{"field":"y","type":"quantitative","axis":null},"text":{"field":"t"}}}
 ]
},
{
 "width":265,"height":139,
 "data":{"name":"c"},
 "resolve":{"axis":{"x":"independent","y":"independent"}},
 "layer":[
  {"mark":{"type":"line","clip":true,"color":"#1a7ac0","strokeWidth":1.1,"interpolate":"monotone"},
   "encoding":{
    "x":{"field":"x","type":"quantitative","scale":{"domain":[0,1],"nice":false},"axis":{"orient":"bottom","values":[0,0.2,0.4,0.6,0.8,1],"labels":false,"title":null,"tickSize":-4}},
    "y":{"field":"y","type":"quantitative","scale":{"domain":[0,1],"nice":false},"axis":{"orient":"left","values":[0,0.2,0.4,0.6,0.8,1],"labelExpr":"toString(datum.value)","tickSize":-4,"title":"Eᵣ(ΩR) − Eᵣ(0)","titlePadding":12}},
    "detail":{"field":"s"}}},
  {"transform":[{"filter":"datum.src=='pt'"}],
   "mark":{"type":"circle","size":18,"opacity":1},
   "encoding":{
    "x":{"field":"x","type":"quantitative","axis":{"orient":"top","values":[0,0.2,0.4,0.6,0.8,1],"labels":false,"title":null,"tickSize":-4}},
    "y":{"field":"y","type":"quantitative","axis":{"orient":"right","values":[0,0.2,0.4,0.6,0.8,1],"labels":false,"tickSize":-4,"title":null}},
    "color":{"field":"s","type":"nominal","scale":{"domain":["λ=0","λ=1","λ=5","λ=10","λ=20","λ=40"],"range":["#f01414","#ff7f0e","#7e2f8e","#77ac30","#edb120","#7f7f7f"]},"legend":{"title":null,"columns":2,"direction":"horizontal","legendX":14,"legendY":29}}}},
  {"data":{"values":[{"t":"(c)","x":0.025,"y":0.895}]},
   "mark":{"type":"text","align":"left","baseline":"middle","fontStyle":"italic","fontSize":12,"font":"Liberation Serif"},
   "encoding":{"x":{"field":"x","type":"quantitative","axis":null},"y":{"field":"y","type":"quantitative","axis":null},"text":{"field":"t"}}}
 ]
},
{
 "width":265,"height":139,
 "resolve":{"scale":{"x":"independent","y":"independent"}},
 "layer":[
  {
   "data":{"name":"b"},
   "resolve":{"axis":{"x":"independent","y":"independent"}},
   "layer":[
    {"mark":{"type":"line","clip":true,"color":"#1a7ac0","strokeWidth":1.1,"interpolate":"monotone"},
     "encoding":{
      "x":{"field":"x","type":"quantitative","scale":{"type":"log","domain":[0.001,10],"nice":false},"axis":{"orient":"bottom","values":[0.001,0.002,0.003,0.004,0.005,0.006,0.007,0.008,0.009,0.01,0.02,0.03,0.04,0.05,0.06,0.07,0.08,0.09,0.1,0.2,0.3,0.4,0.5,0.6,0.7,0.8,0.9,1,2,3,4,5,6,7,8,9,10],"labelExpr":"abs(log(datum.value)/LN10+3)<0.001?'10⁻³':abs(log(datum.value)/LN10+2)<0.001?'10⁻²':abs(log(datum.value)/LN10+1)<0.001?'10⁻¹':abs(log(datum.value)/LN10)<0.001?'10⁰':abs(log(datum.value)/LN10-1)<0.001?'10¹':''","title":"μL","titlePadding":0,"labelPadding":10,"tickSize":{"condition":{"test":"abs(log(datum.value)/LN10-round(log(datum.value)/LN10))<0.001","value":-4},"value":-2.5}}},
      "y":{"field":"y","type":"quantitative","scale":{"domain":[-100,10.3],"nice":false},"axis":{"orient":"left","values":[-100,-50,0],"tickSize":-4,"title":"Eᵣ(μL)","titlePadding":10}},
      "detail":{"field":"s"}}},
    {"transform":[{"filter":"datum.src=='pt'"}],
     "mark":{"type":"circle","size":18,"opacity":1},
     "encoding":{
      "x":{"field":"x","type":"quantitative","axis":{"orient":"top","values":[0.001,0.002,0.003,0.004,0.005,0.006,0.007,0.008,0.009,0.01,0.02,0.03,0.04,0.05,0.06,0.07,0.08,0.09,0.1,0.2,0.3,0.4,0.5,0.6,0.7,0.8,0.9,1,2,3,4,5,6,7,8,9,10],"labels":false,"title":null,"tickSize":{"condition":{"test":"abs(log(datum.value)/LN10-round(log(datum.value)/LN10))<0.001","value":-4},"value":-2.5}}},
      "y":{"field":"y","type":"quantitative","axis":{"orient":"right","values":[-100,-50,0],"labels":false,"tickSize":-4,"title":null}},
      "color":{"field":"s","type":"nominal","scale":{"domain":["ΩR=0.9","ΩR=0.8","ΩR=0.7","ΩR=0.6","ΩR=0.5","ΩR=0"],"range":["#f01414","#ff7f0e","#7e2f8e","#77ac30","#edb120","#7f7f7f"]},"legend":{"title":null,"columns":1,"direction":"vertical","legendX":74,"legendY":41}}}},
    {"data":{"values":[{"t":"(b)","x":0.0015,"y":1.8}]},
     "mark":{"type":"text","align":"left","baseline":"middle","fontStyle":"italic","fontSize":12,"font":"Liberation Serif"},
     "encoding":{"x":{"field":"x","type":"quantitative","axis":null},"y":{"field":"y","type":"quantitative","axis":null},"text":{"field":"t"}}}
   ]
  },
  {
   "layer":[
    {"data":{"values":[{"x":0.00098,"x2":0.0104,"y":-70,"y2":-7}]},
     "mark":{"type":"rect","fill":"white","stroke":"#555","strokeWidth":1},
     "encoding":{
      "x":{"field":"x","type":"quantitative","scale":{"type":"log","domain":[0.00098,0.0104],"range":[157,250],"nice":false,"padding":0},"axis":{"orient":"top","offset":-40.7,"values":[0.001,0.002,0.003,0.004,0.005,0.006,0.007,0.008,0.009,0.01],"labelExpr":"abs(log(datum.value)/LN10+3)<0.001?'10⁻³':abs(log(datum.value)/LN10+2)<0.001?'10⁻²':''","title":null,"labelPadding":2,"tickSize":{"condition":{"test":"abs(log(datum.value)/LN10-round(log(datum.value)/LN10))<0.001","value":-3},"value":-2}}},
      "x2":{"field":"x2"},
      "y":{"field":"y","type":"quantitative","scale":{"domain":[-70,-7],"range":[131.7,40.7],"nice":false,"zero":false},"axis":{"orient":"left","offset":-157,"values":[-60,-40,-20],"tickSize":-3,"title":null}},
      "y2":{"field":"y2"}}},
    {"data":{"name":"bi"},
     "mark":{"type":"line","color":"#1a7ac0","strokeWidth":1.1,"interpolate":"monotone"},
     "encoding":{"x":{"field":"x","type":"quantitative"},"y":{"field":"y","type":"quantitative"},"detail":{"field":"s"}}},
    {"data":{"name":"b"},
     "transform":[{"filter":"datum.src=='pt' && datum.x<0.007 && datum.y>-70"}],
     "mark":{"type":"circle","size":18,"opacity":1},
     "encoding":{"x":{"field":"x","type":"quantitative"},"y":{"field":"y","type":"quantitative"},"color":{"field":"s","type":"nominal"}}}
   ]
  }
 ]
},
{
 "width":265,"height":139,
 "data":{"name":"d"},
 "resolve":{"axis":{"x":"independent","y":"independent"}},
 "layer":[
  {"mark":{"type":"line","clip":true,"color":"#1a7ac0","strokeWidth":1.1,"interpolate":"monotone"},
   "encoding":{
    "x":{"field":"x","type":"quantitative","scale":{"domain":[0,1],"nice":false},"axis":{"orient":"bottom","values":[0,0.2,0.4,0.6,0.8,1],"labelExpr":"toString(datum.value)","title":"ΩR","titlePadding":0,"labelPadding":10,"tickSize":-4}},
    "y":{"field":"y","type":"quantitative","scale":{"domain":[0,0.15],"nice":false},"axis":{"orient":"left","values":[0,0.05,0.1,0.15],"labelExpr":"toString(datum.value)","tickSize":-4,"title":"Eᵣ(ΩR) − Eᵣ(0)","titlePadding":10}},
    "detail":{"field":"s"}}},
  {"transform":[{"filter":"datum.src=='pt'"}],
   "mark":{"type":"circle","size":18,"opacity":1},
   "encoding":{
    "x":{"field":"x","type":"quantitative","axis":{"orient":"top","values":[0,0.2,0.4,0.6,0.8,1],"labels":false,"title":null,"tickSize":-4}},
    "y":{"field":"y","type":"quantitative","axis":{"orient":"right","values":[0,0.05,0.1,0.15],"labels":false,"tickSize":-4,"title":null}},
    "color":{"field":"s","type":"nominal","scale":{"domain":["μL=1","μL=2","μL=5","μL=10","μL=20","L=40"],"range":["#f01414","#ff7f0e","#7e2f8e","#77ac30","#edb120","#7f7f7f"]},"legend":{"title":null,"columns":2,"direction":"horizontal","legendX":28,"legendY":41}}}},
  {"data":{"values":[{"t":"(d)","x":0.025,"y":0.1334}]},
   "mark":{"type":"text","align":"left","baseline":"middle","fontStyle":"italic","fontSize":12,"font":"Liberation Serif"},
   "encoding":{"x":{"field":"x","type":"quantitative","axis":null},"y":{"field":"y","type":"quantitative","axis":null},"text":{"field":"t"}}}
 ]
}
]
}
